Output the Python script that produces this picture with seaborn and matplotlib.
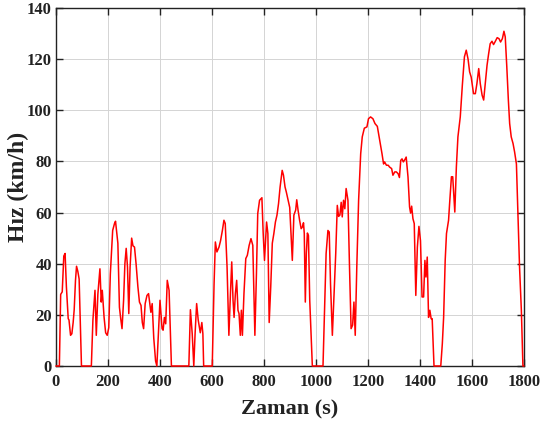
import matplotlib
matplotlib.use("Agg")
import matplotlib.pyplot as plt
import seaborn as sns
import pandas as pd

# Time (s) and speed (km/h)
time_s = [
    0, 13, 18, 24, 30, 35, 40, 47, 50, 56,
    61, 66, 70, 75, 79, 84, 89, 98, 136, 142,
    150, 155, 161, 169, 174, 178, 185, 191, 197, 203,
    209, 218, 225, 229, 238, 244, 249, 254, 260, 265,
    270, 275, 280, 285, 291, 296, 302, 308, 315, 321,
    327, 332, 337, 343, 350, 356, 361, 365, 370, 376,
    383, 388, 394, 400, 408, 412, 417, 422, 428, 435,
    444, 511, 517, 524, 530, 535, 541, 547, 555, 561,
    565, 568, 601, 608, 613, 619, 627, 633, 640, 646,
    651, 658, 665, 671, 676, 681, 685, 690, 695, 700,
    704, 709, 713, 717, 723, 730, 736, 743, 750, 757,
    765, 771, 776, 783, 792, 797, 802, 810, 815, 820,
    826, 832, 838, 844, 850, 856, 862, 870, 875, 881,
    886,
    899, 909, 915, 922, 926, 931, 937, 943, 948, 952,
    955, 959, 963, 967, 971, 976, 981, 986, 1027, 1033,
    1039, 1046, 1051, 1056, 1063, 1069, 1076, 1082, 1087, 1092,
    1097, 1101, 1106, 1111, 1116, 1123, 1129, 1135, 1141, 1146,
    1151, 1157, 1164, 1172, 1178, 1186, 1196, 1202, 1210, 1219,
    1227, 1236, 1245, 1254, 1260, 1264, 1271, 1278, 1283, 1291,
    1296, 1303, 1309, 1316, 1321, 1326, 1331, 1336, 1342, 1347,
    1354, 1360, 1364, 1368, 1373, 1378, 1384, 1390, 1396, 1402,
    1408, 1414, 1419, 1423, 1428, 1433, 1438, 1443, 1447, 1454,
    1480, 1486, 1491, 1497, 1502, 1510, 1514, 1521, 1526, 1534,
    1540, 1546, 1555, 1563, 1571, 1578, 1585, 1591, 1597, 1606,
    1613, 1619, 1626, 1632, 1639, 1645, 1651, 1658, 1664, 1670,
    1677, 1683, 1690, 1697, 1704, 1710, 1717, 1723, 1728, 1734,
    1740, 1745, 1751, 1758, 1764, 1771, 1777, 1783, 1790, 1796,
    1800,
]
speed_kmh = [
    0, 0, 28, 29, 43, 44, 31, 18.5, 18, 12,
    12.6, 17, 22, 33.5, 39, 37, 34, 0, 0, 18,
    29.6, 12, 28, 38, 25, 29.6, 19, 13, 12, 15,
    36, 53, 55.7, 56.6, 48, 23, 18.5, 14.6, 25.7, 40,
    46, 38.7, 20.5, 38.7, 50, 47, 46.5, 40, 31, 25,
    23.7, 17, 14.6, 24.4, 27.6, 28.3, 24.4, 21, 24.4, 11,
    2, 0, 12.6, 25.7, 14.6, 14, 19, 16.5, 33.5, 29.6,
    0, 0, 22, 12.6, 0, 12.6, 24.4, 18, 13, 17,
    12.6, 0, 0, 32, 48.5, 44.6, 46.5, 49, 53, 57,
    55.7, 38.7, 12, 28.3, 40.7, 25.7, 19, 28.3, 33.5, 21.8,
    20.5, 12, 21.8, 12, 28.3, 42, 43.3, 47.2, 49.8, 47.2,
    12, 36, 59.6, 64.8, 65.8, 51.8, 41.3, 56.3, 51.8, 17,
    31, 48, 51.8, 56.3, 59, 63.5, 70, 76.5, 74.6, 70,
    68,
    62, 41.3, 59, 61, 65, 61, 57, 53.7, 54.4, 56,
    51.8, 25, 44, 52, 51, 25.7, 12.6, 0, 0, 21.8,
    44, 53, 52.4, 32, 12, 27, 44, 62.8, 58.5, 59,
    64, 58.3, 64.8, 61.5, 69.4, 64.8, 38.7, 14.6, 16, 25,
    12, 38.7, 64.8, 83, 89.6, 93, 93.5, 96.7, 97.4, 96.7,
    94.8, 93.7, 88.3, 83, 79, 79.8, 78.5, 78.5, 77.8, 77.2,
    74.6, 75.9, 75.9, 75.2, 73.7, 80.4, 81, 79.8, 80.7, 81.7,
    73.9, 62.2, 59.8, 62.5, 57.6, 55.7, 27.6, 46.5, 54.6, 49,
    27, 27, 41.3, 34.8, 42.6, 19, 21.8, 18.5, 18.5, 0,
    0, 8.7, 19, 41.3, 51.8, 57, 63.5, 74, 74, 60.2,
    77.8, 89.6, 97.4, 109.8, 120.9, 123.5, 120, 115, 113, 106.5,
    106.5, 110.4, 116.3, 110.4, 105.9, 104, 110.4, 117.6, 122, 126,
    127, 125.7, 127, 128.4, 128, 126.7, 128, 130.9, 128.7, 117,
    104, 94.8, 89.6, 87, 83.7, 79, 58.3, 38.7, 21.8, 0,
    0,
]

x_ticks = [0, 200, 400, 600, 800, 1000, 1200, 1400, 1600, 1800]
y_ticks = [0, 20, 40, 60, 80, 100, 120, 140]
x_label = "Zaman (s)"
y_label = "Hız (km/h)"

df = pd.DataFrame({"t": time_s, "v": speed_kmh})

sns.set_style("ticks")
plt.rcParams["font.family"] = ["Liberation Serif", "DejaVu Serif"]

fig = plt.figure(figsize=(5.41, 4.34), dpi=100)
ax = fig.add_axes([0.1035, 0.1567, 0.865, 0.8249])

sns.lineplot(data=df, x="t", y="v", ax=ax, color="#ff0000", linewidth=1.1,
             estimator=None, sort=False, clip_on=False, zorder=5)

ax.set_xlim(0, 1800)
ax.set_ylim(0, 140)
ax.set_xticks(x_ticks)
ax.set_yticks(y_ticks)
ax.grid(True, color="#d4d4d4", linewidth=0.7)
ax.set_axisbelow(True)
ax.tick_params(direction="in", top=True, right=True, length=5, width=1,
               labelsize=12, colors="#222222")
ax.tick_params(axis="x", pad=6)
ax.tick_params(axis="y", pad=3)
for lab in ax.get_xticklabels() + ax.get_yticklabels():
    lab.set_fontweight("bold")
for sp in ax.spines.values():
    sp.set_visible(True)
    sp.set_linewidth(1.0)
    sp.set_color("#222222")
ax.set_xlabel(x_label, fontsize=16, fontweight="bold", color="#222222")
ax.set_ylabel(y_label, fontsize=17, fontweight="bold", color="#222222")
ax.xaxis.set_label_coords(0.5, -0.093)
ax.yaxis.set_label_coords(-0.058, 0.5)

fig.savefig("out.png", dpi=100)
